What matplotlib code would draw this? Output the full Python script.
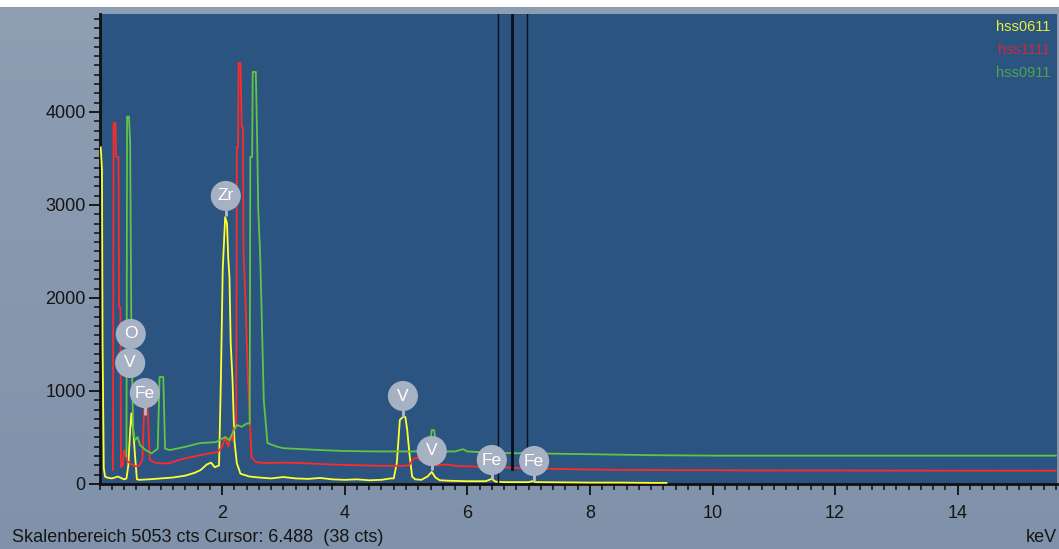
import numpy as np
import matplotlib.pyplot as plt
from matplotlib.ticker import MultipleLocator, FixedLocator
from matplotlib.patches import Rectangle

plt.rcParams['font.family'] = ['Liberation Sans', 'DejaVu Sans']

# spectra (keV, counts)
e0611 = [0.02, 0.04, 0.05, 0.07, 0.09, 0.12, 0.2, 0.3, 0.4, 0.44, 0.47, 0.50, 0.52, 0.55, 0.58,
         0.61, 0.65, 0.8, 1.0, 1.2, 1.4, 1.55, 1.65, 1.75, 1.82, 1.88, 1.95, 1.98, 2.01, 2.05,
         2.08, 2.10, 2.12, 2.14, 2.17, 2.20, 2.24, 2.30, 2.45, 2.6, 2.8, 3.0, 3.2, 3.4, 3.6, 3.8,
         4.0, 4.2, 4.4, 4.6, 4.75, 4.80, 4.85, 4.90, 4.95, 4.99, 5.02, 5.06, 5.10, 5.15, 5.25,
         5.35, 5.42, 5.48, 5.55, 5.7, 6.0, 6.3, 6.40, 6.46, 6.6, 7.0, 7.06, 7.12, 7.5, 8.0, 8.5,
         9.0, 9.25]
c0611 = [3620, 3380, 1500, 170, 80, 70, 60, 80, 50, 60, 200, 580, 760, 580, 300,
         50, 45, 50, 60, 70, 90, 120, 150, 210, 230, 180, 200, 1120, 2300, 2870,
         2800, 2430, 2225, 1520, 1120, 470, 225, 110, 80, 70, 60, 75, 60, 55, 65, 50,
         45, 50, 40, 45, 60, 60, 225, 690, 720, 720, 580, 300, 80, 50, 45,
         80, 130, 70, 40, 35, 30, 30, 55, 25, 20, 20, 30, 20, 18, 15, 15,
         12, 12]

e1111 = [0.22, 0.23, 0.26, 0.27, 0.31, 0.32, 0.34, 0.35, 0.38, 0.40, 0.42, 0.45, 0.5, 0.55,
         0.6, 0.65, 0.70, 0.73, 0.78, 0.80, 0.82, 0.9, 1.0, 1.15, 1.3, 1.5, 1.64, 1.8, 1.93,
         2.0, 2.05, 2.1, 2.14, 2.17, 2.18, 2.23, 2.24, 2.26, 2.27, 2.30, 2.32, 2.34, 2.35, 2.38,
         2.42, 2.48, 2.55, 2.7, 3.0, 3.3, 3.6, 4.0, 4.3, 4.6, 4.9, 5.05, 5.12, 5.18, 5.25, 5.35,
         5.5, 5.67, 5.8, 6.0, 6.3, 6.5, 6.86, 7.2, 7.6, 8.0, 8.5, 9.0, 9.5, 10.0, 10.5, 11.0, 15.6]
c1111 = [150, 3880, 3880, 3516, 3516, 1900, 1900, 180, 200, 365, 330, 250, 220, 200,
         190, 200, 260, 830, 850, 600, 260, 230, 220, 225, 260, 290, 310, 330, 345,
         400, 505, 400, 520, 470, 600, 600, 3620, 3620, 4527, 4527, 3840, 3840, 2480, 2000,
         1150, 290, 235, 225, 230, 225, 215, 205, 200, 195, 195, 200, 270, 285, 250, 210,
         200, 210, 195, 190, 185, 180, 172, 165, 160, 155, 152, 150, 148, 148, 146, 145, 143]

e0911 = [0.44, 0.45, 0.48, 0.50, 0.52, 0.55, 0.58, 0.62, 0.66, 0.75, 0.85, 0.95, 0.98, 1.04,
         1.07, 1.15, 1.4, 1.64, 1.9, 2.05, 2.12, 2.18, 2.24, 2.32, 2.40, 2.45, 2.46, 2.49, 2.50,
         2.55, 2.57, 2.59, 2.62, 2.64, 2.68, 2.74, 2.9, 3.0, 3.3, 3.6, 4.0, 4.5, 5.0, 5.38, 5.42,
         5.46, 5.5, 5.8, 5.93, 6.0, 6.4, 6.86, 6.95, 7.05, 7.5, 8.0, 8.5, 9.0, 10.0, 15.6]
c0911 = [300, 3950, 3950, 3670, 1620, 550, 470, 505, 420, 365, 330, 380, 1150, 1150,
         380, 365, 400, 440, 450, 505, 470, 560, 635, 615, 650, 650, 3516, 3516, 4430,
         4430, 3770, 2946, 2480, 1980, 900, 440, 400, 385, 375, 365, 355, 350, 350, 350, 580,
         580, 350, 350, 375, 350, 335, 330, 345, 330, 325, 320, 315, 310, 305, 305]

names = ['hss0611', 'hss1111', 'hss0911']
line_colors = ['#ffff30', '#ff2a2a', '#62c444']
legend_colors = ['#e4f03a', '#cc2a3c', '#4ea452']

# element markers: label, keV, counts of circle, counts of stem tip
marks = ['O', 'V', 'Fe', 'Zr', 'V', 'V', 'Fe', 'Fe']
mark_e = [0.51, 0.50, 0.74, 2.06, 4.95, 5.42, 6.40, 7.09]
mark_c = [1613, 1301, 978, 3097, 946, 355, 258, 247]
mark_tip = [1613, 1301, 742, 2882, 720, 150, 54, 32]

W, H = 1059, 549
fig = plt.figure(figsize=(W / 100, H / 100), dpi=100)

# background gradient
bg = fig.add_axes([0, 0, 1, 1], zorder=-5)
grad = np.linspace(0, 1, 200).reshape(-1, 1)
top = np.array([0x8e, 0x9e, 0xb3]) / 255
bot = np.array([0x80, 0x92, 0xaa]) / 255
img = top + (bot - top) * grad[:, :, None]
bg.imshow(img, aspect='auto', extent=[0, 1, 0, 1])
bg.axis('off')
fig.patches.append(Rectangle((0, 1 - 7 / H), 1, 7 / H, transform=fig.transFigure,
                             facecolor='white', edgecolor='none', zorder=-4))

ax = fig.add_axes([99.5 / W, (H - 484) / H, (1057 - 99.5) / W, (484 - 14) / H])
ax.set_facecolor('#2b5480')

series = [(e0611, c0611), (e1111, c1111), (e0911, c0911)]
for (e, c), col in zip(series, line_colors):
    ax.plot(e, c, color=col, lw=1.3, zorder=3)

# cursor lines
ax.axvline(6.50, color='#0a0f18', lw=1.0, zorder=4)
ax.axvline(6.73, ymin=160 / 5053, color='#0a0f18', lw=2.0, zorder=4)
ax.axvline(6.975, ymin=400 / 5053, color='#0a0f18', lw=1.0, zorder=4)

for lab, xe, yc, yt in zip(marks, mark_e, mark_c, mark_tip):
    ax.plot([xe, xe], [yc, yt], color='#b4bccb', lw=2, zorder=5, solid_capstyle='butt')
    ax.scatter([xe], [yc], s=470, color='#a7b1c4', edgecolors='none', zorder=6)
    ax.text(xe, yc, lab, color='white', fontsize=12.5, ha='center', va='center', zorder=7)

ax.set_xlim(0, (1057 - 99.5) / 61.3)
ax.set_ylim(0, 5053)

ax.xaxis.set_major_locator(FixedLocator([2, 4, 6, 8, 10, 12, 14]))
ax.xaxis.set_minor_locator(MultipleLocator(0.2))
ax.yaxis.set_major_locator(FixedLocator([0, 1000, 2000, 3000, 4000]))
ax.yaxis.set_minor_locator(MultipleLocator(100))
ax.tick_params(axis='both', which='major', direction='out', length=8, width=1.3,
               color='#101010', labelsize=13, labelcolor='#151515')
ax.tick_params(axis='both', which='minor', direction='out', length=4.5, width=1.1,
               color='#101010')
ax.tick_params(axis='y', which='major', pad=2)
ax.tick_params(axis='x', which='major', pad=7)

for s in ['top', 'right']:
    ax.spines[s].set_visible(False)
for s in ['left', 'bottom']:
    ax.spines[s].set_linewidth(2)
    ax.spines[s].set_color('#101010')

for i, (n, col) in enumerate(zip(names, legend_colors)):
    fig.text(1050 / W, 1 - (27 + 23 * i) / H, n, color=col, fontsize=10.5,
             ha='right', va='center')

fig.text(12 / W, 1 - 537 / H, 'Skalenbereich 5053 cts Cursor: 6.488  (38 cts)',
         fontsize=13, color='#151515', ha='left', va='center')
fig.text(1057 / W, 1 - 537 / H, 'keV', fontsize=13, color='#151515', ha='right', va='center')

fig.savefig('out.png', dpi=100)
